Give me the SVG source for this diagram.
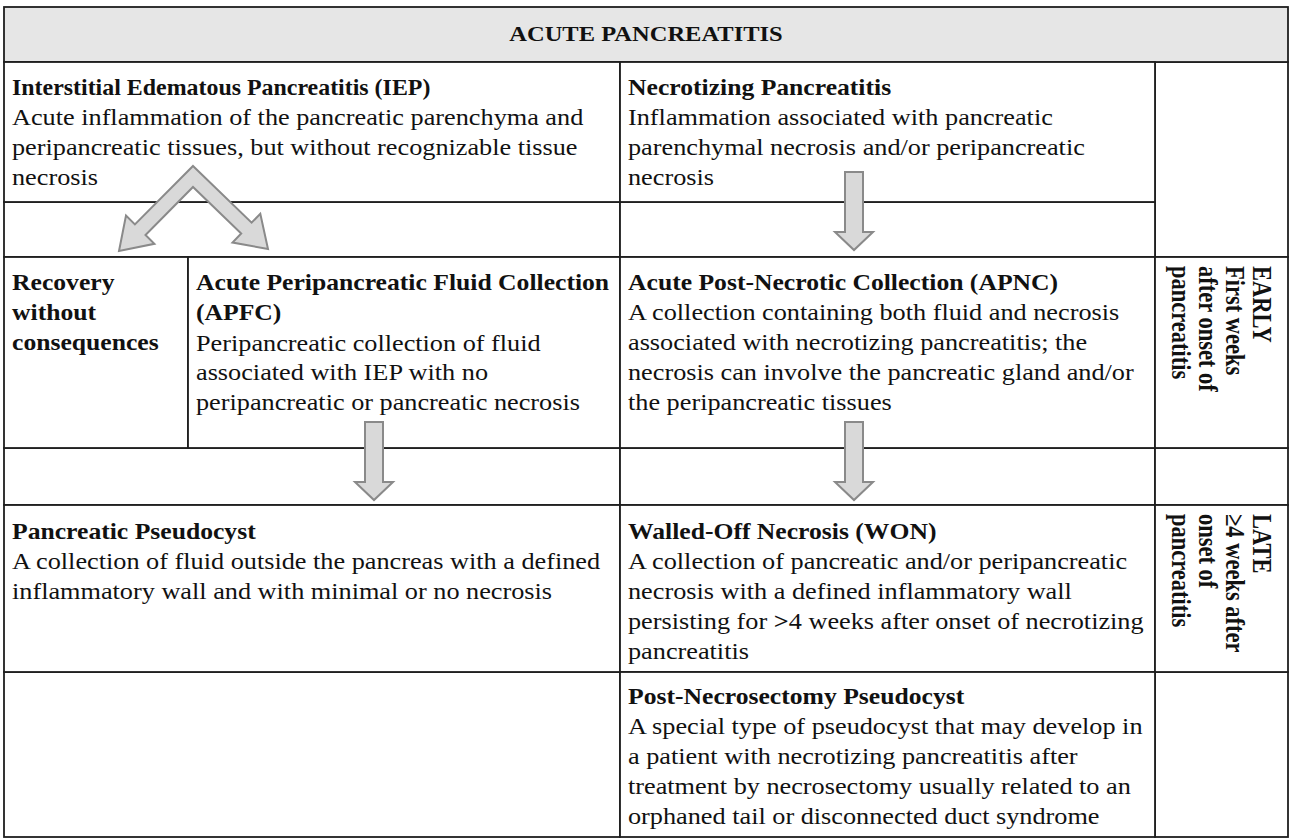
<svg xmlns="http://www.w3.org/2000/svg" width="1290" height="840" viewBox="0 0 1290 840">
<style>
.cell{fill:#ffffff;stroke:#1e1e1e;stroke-width:1.8}
.hdr{fill:#e6e6e6;stroke:#1e1e1e;stroke-width:1.8}
text{font-family:"Liberation Serif","Times New Roman",serif;font-size:22.5px;fill:#111111}
.h{font-weight:bold}
.arrow{fill:#d9d9d9;stroke:#8a8a8a;stroke-width:2}
</style>
<g id="grid">
<rect class="cell" x="1155" y="62" width="133" height="195"/>
<rect class="cell" x="4" y="202" width="616" height="55"/>
<rect class="cell" x="620" y="202" width="535" height="55"/>
<rect class="cell" x="4" y="448" width="616" height="57"/>
<rect class="cell" x="620" y="448" width="535" height="57"/>
<rect class="cell" x="1155" y="448" width="133" height="57"/>
<rect class="cell" x="4" y="672" width="616" height="165"/>
<rect class="cell" x="1155" y="672" width="133" height="165"/>
</g>
<g id="header">
<rect class="hdr" x="4" y="7" width="1284" height="55"/>
<g transform="translate(646 0) scale(1.14 1)"><text class="h" x="0" y="41" text-anchor="middle" style="font-size:21.5px">ACUTE PANCREATITIS</text></g>
</g>
<g id="iep">
<rect class="cell" x="4" y="62" width="616" height="140"/>
<g transform="translate(12 0) scale(1.14 1)"><text class="h" y="95" textLength="367" lengthAdjust="spacingAndGlyphs">Interstitial Edematous Pancreatitis (IEP)</text></g>
<g transform="translate(12 0) scale(1.167 1)">
<text y="125">Acute inflammation of the pancreatic parenchyma and</text>
<text y="155">peripancreatic tissues, but without recognizable tissue</text>
<text y="185">necrosis</text>
</g>
</g>
<g id="necrotizing">
<rect class="cell" x="620" y="62" width="535" height="140"/>
<g transform="translate(628 0) scale(1.14 1)"><text class="h" y="95">Necrotizing Pancreatitis</text></g>
<g transform="translate(628 0) scale(1.167 1)">
<text y="125">Inflammation associated with pancreatic</text>
<text y="155">parenchymal necrosis and/or peripancreatic</text>
<text y="185">necrosis</text>
</g>
</g>
<g id="recovery">
<rect class="cell" x="4" y="257" width="184" height="191"/>
<g transform="translate(12 0) scale(1.14 1)">
<text class="h" y="290">Recovery</text>
<text class="h" y="320">without</text>
<text class="h" y="350">consequences</text>
</g>
</g>
<g id="apfc">
<rect class="cell" x="188" y="257" width="432" height="191"/>
<g transform="translate(196 0) scale(1.14 1)">
<text class="h" y="290">Acute Peripancreatic Fluid Collection</text>
<text class="h" y="320">(APFC)</text>
</g>
<g transform="translate(196 0) scale(1.167 1)">
<text y="351">Peripancreatic collection of fluid</text>
<text y="380">associated with IEP with no</text>
<text y="410">peripancreatic or pancreatic necrosis</text>
</g>
</g>
<g id="apnc">
<rect class="cell" x="620" y="257" width="535" height="191"/>
<g transform="translate(628 0) scale(1.14 1)"><text class="h" y="290">Acute Post-Necrotic Collection (APNC)</text></g>
<g transform="translate(628 0) scale(1.167 1)">
<text y="320">A collection containing both fluid and necrosis</text>
<text y="350">associated with necrotizing pancreatitis; the</text>
<text y="380">necrosis can involve the pancreatic gland and/or</text>
<text y="410">the peripancreatic tissues</text>
</g>
</g>
<g id="early">
<rect class="cell" x="1155" y="257" width="133" height="191"/>
<text class="h" transform="translate(1253 266) rotate(90) scale(1 1.17)">EARLY</text>
<text class="h" transform="translate(1226 266) rotate(90) scale(1 1.17)">First weeks</text>
<text class="h" transform="translate(1199 266) rotate(90) scale(1 1.17)">after onset of</text>
<text class="h" transform="translate(1172 266) rotate(90) scale(1 1.17)">pancreatitis</text>
</g>
<g id="pseudocyst">
<rect class="cell" x="4" y="505" width="616" height="167"/>
<g transform="translate(12 0) scale(1.14 1)"><text class="h" y="539">Pancreatic Pseudocyst</text></g>
<g transform="translate(12 0) scale(1.167 1)">
<text y="569">A collection of fluid outside the pancreas with a defined</text>
<text y="599">inflammatory wall and with minimal or no necrosis</text>
</g>
</g>
<g id="won">
<rect class="cell" x="620" y="505" width="535" height="167"/>
<g transform="translate(628 0) scale(1.14 1)"><text class="h" y="539">Walled-Off Necrosis (WON)</text></g>
<g transform="translate(628 0) scale(1.167 1)">
<text y="569">A collection of pancreatic and/or peripancreatic</text>
<text y="599">necrosis with a defined inflammatory wall</text>
<text y="629">persisting for <tspan class="h">&gt;</tspan>4 weeks after onset of necrotizing</text>
<text y="659">pancreatitis</text>
</g>
</g>
<g id="late">
<rect class="cell" x="1155" y="505" width="133" height="167"/>
<text class="h" transform="translate(1253 514) rotate(90) scale(1 1.17)">LATE</text>
<text class="h" transform="translate(1226 514) rotate(90) scale(1 1.17)">&#8805;4 weeks after</text>
<text class="h" transform="translate(1199 514) rotate(90) scale(1 1.17)">onset of</text>
<text class="h" transform="translate(1172 514) rotate(90) scale(1 1.17)">pancreatitis</text>
</g>
<g id="post-necrosectomy">
<rect class="cell" x="620" y="672" width="535" height="165"/>
<g transform="translate(628 0) scale(1.14 1)"><text class="h" y="704">Post-Necrosectomy Pseudocyst</text></g>
<g transform="translate(628 0) scale(1.167 1)">
<text y="734">A special type of pseudocyst that may develop in</text>
<text y="764">a patient with necrotizing pancreatitis after</text>
<text y="794">treatment by necrosectomy usually related to an</text>
<text y="824">orphaned tail or disconnected duct syndrome</text>
</g>
</g>
<g id="connectors">
<polygon class="arrow" points="193,166 251.6,222.7 260.3,213.7 268,249 232.5,242.5 241.2,233.5 193,187 145.5,235 154.4,243.8 119,251 126,215.6 134.9,224.4"/>
<polygon class="arrow" points="845,172 863,172 863,232 873,232 854,250 835,232 845,232"/>
<polygon class="arrow" points="365,422 383,422 383,482 393,482 374,500 355,482 365,482"/>
<polygon class="arrow" points="845,422 863,422 863,482 873,482 854,500 835,482 845,482"/>
</g>
</svg>
